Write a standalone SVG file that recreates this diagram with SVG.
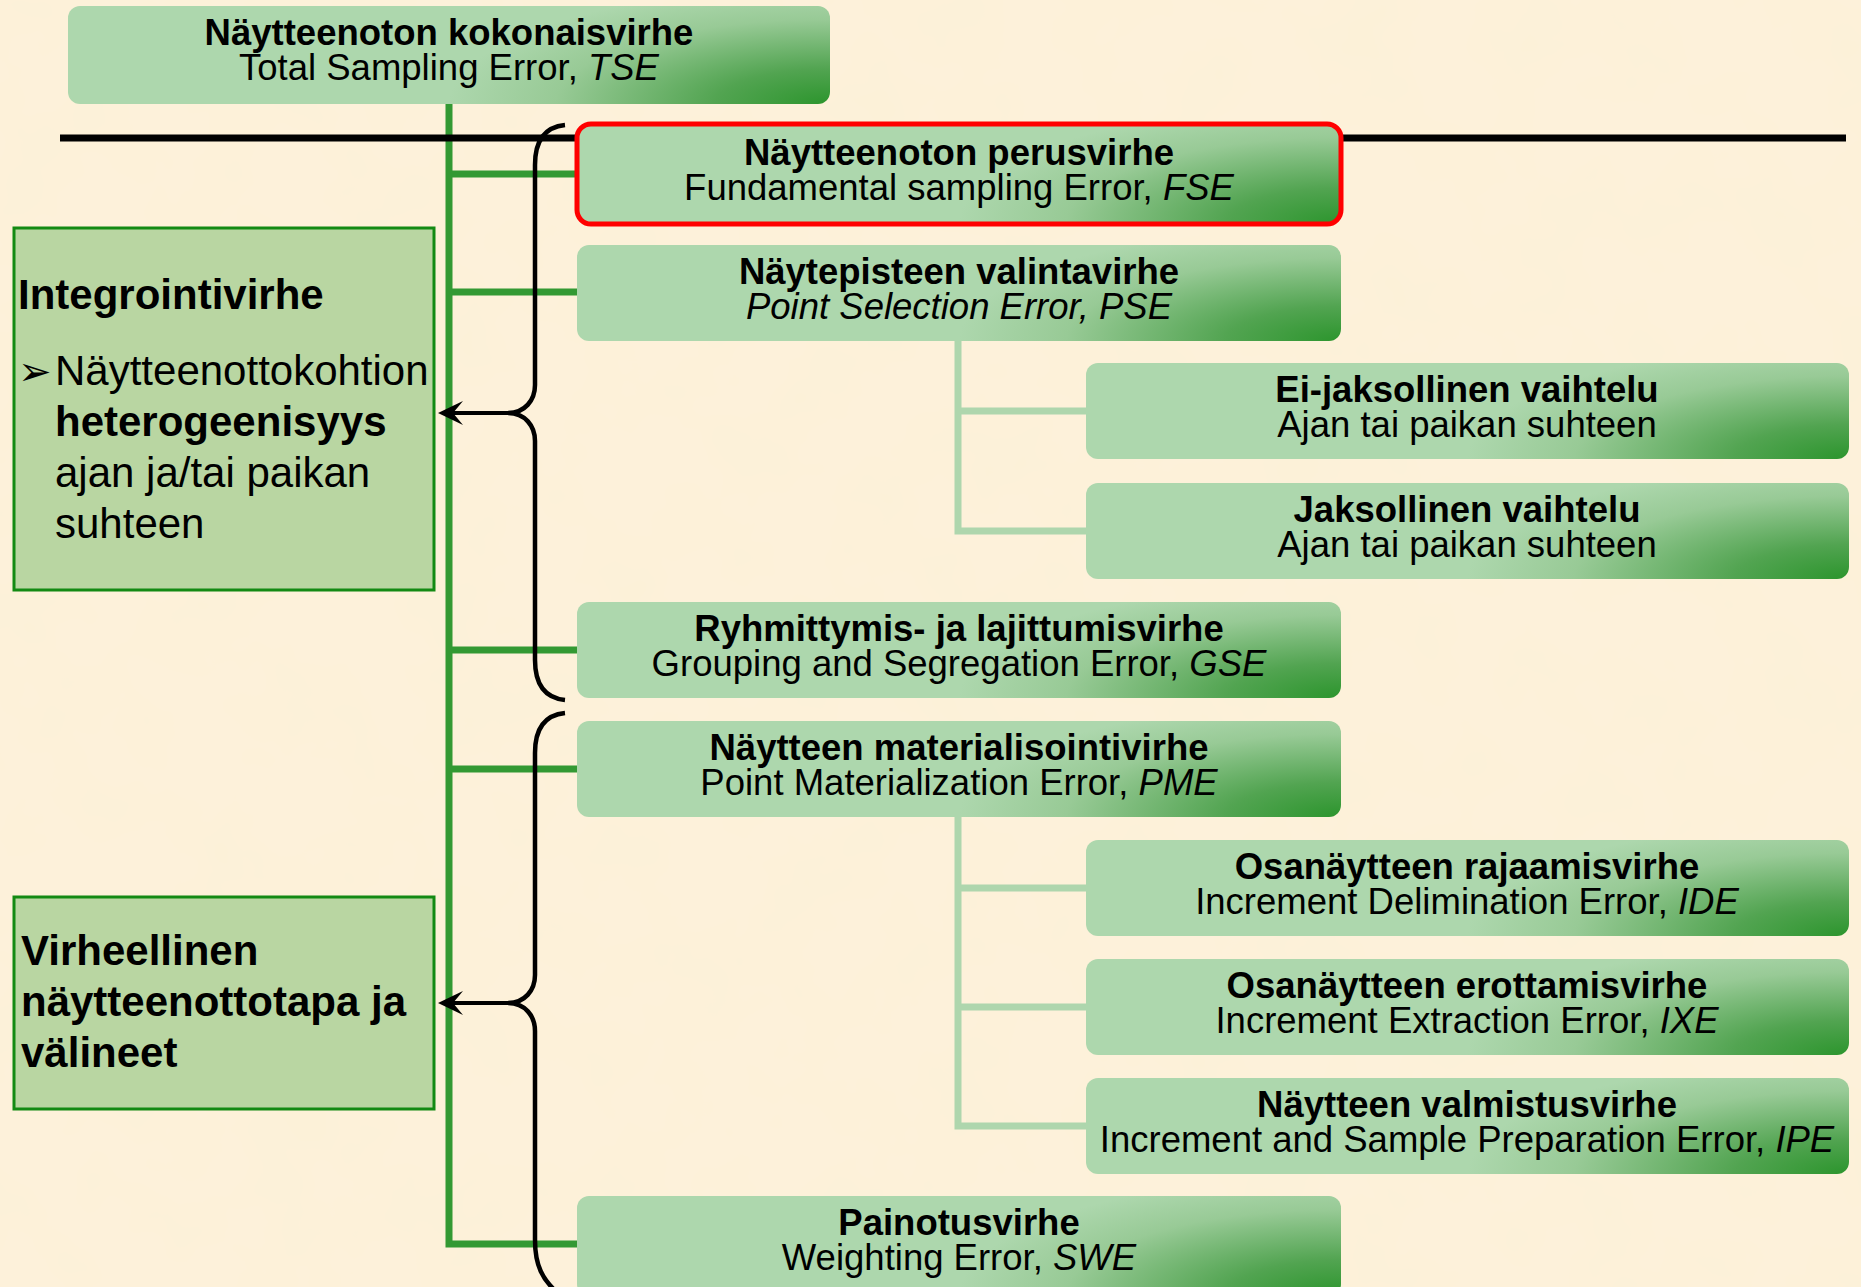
<svg xmlns="http://www.w3.org/2000/svg" width="1861" height="1287" viewBox="0 0 1861 1287">
<defs>
  <radialGradient id="boxg" cx="0" cy="0" r="1" gradientTransform="translate(1 1) scale(0.5 1.2)">
    <stop offset="0" stop-color="#2c952d"/>
    <stop offset="0.3" stop-color="#52a451"/>
    <stop offset="0.72" stop-color="#98ca96"/>
    <stop offset="1" stop-color="#add7ad"/>
  </radialGradient>
  <filter id="paper" x="0" y="0" width="100%" height="100%">
    <feTurbulence type="fractalNoise" baseFrequency="0.012" numOctaves="3" seed="7" result="n"/>
    <feColorMatrix in="n" type="matrix" values="0 0 0 0 0.97  0 0 0 0 0.88  0 0 0 0 0.68  1.2 0 0 0 -0.42"/>
  </filter>
  <marker id="arr" viewBox="-30 -15 32 30" markerWidth="32" markerHeight="30" refX="-8" refY="0" orient="auto" markerUnits="userSpaceOnUse">
    <path d="M0,0 L-25,-12 L-15,0 L-25,12 Z" fill="#000"/>
  </marker>
</defs>
<style>
  .bx{fill:url(#boxg)}
  .red{fill:url(#boxg);stroke:#ff0000;stroke-width:5}
  .side{fill:#b9d6a2;stroke:#138a13;stroke-width:3}
  .tb{font-family:'Liberation Sans',Arial,sans-serif;font-size:36.5px;font-weight:bold;text-anchor:middle;fill:#000}
  .tr{font-family:'Liberation Sans',Arial,sans-serif;font-size:36.5px;text-anchor:middle;fill:#000}
  .it{font-style:italic}
  .ls{font-family:'Liberation Sans',Arial,sans-serif;font-size:42px;fill:#000}
  .b{font-weight:bold}
  .trunk{fill:none;stroke:#339933;stroke-width:7}
  .sub{fill:none;stroke:#aed6ad;stroke-width:7}
  .brace{fill:none;stroke:#000;stroke-width:4.5}
  .arrow{fill:none;stroke:#000;stroke-width:4;marker-end:url(#arr)}
</style>

<rect x="0" y="0" width="1861" height="1287" fill="#fdf1da"/>
<rect x="0" y="0" width="1861" height="1287" filter="url(#paper)"/>

<g id="connectors">
  <path class="trunk" d="M449,104 V1244 H580 M449,174 H580 M449,292 H580 M449,650 H580 M449,769 H580"/>
  <path class="sub" d="M958,341 V531 H1088 M958,411 H1088 M958,817 V1126 H1088 M958,888 H1088 M958,1007 H1088"/>
  <line x1="60" y1="138" x2="1846" y2="138" stroke="#000" stroke-width="7"/>
  <path class="brace" d="M565,125 C545,127 535,140 535,165 L535,385 C535,400 525,413 508,413 C525,413 535,426 535,441 L535,660 C535,685 545,698 565,700"/>
  <path class="brace" d="M565,713 C545,715 535,728 535,753 L535,975 C535,990 525,1003 508,1003 C525,1003 535,1016 535,1031 L535,1240 C535,1265 542,1280 560,1295"/>
  <line class="arrow" x1="508" y1="413" x2="446" y2="413"/>
  <line class="arrow" x1="508" y1="1003" x2="446" y2="1003"/>
</g>

<g id="tse">
  <rect class="bx" x="68" y="6" width="762" height="98" rx="12"/>
  <text class="tb" x="449" y="45">Näytteenoton kokonaisvirhe</text>
  <text class="tr" x="449" y="80">Total Sampling Error, <tspan class="it">TSE</tspan></text>
</g>

<g id="fse">
  <rect class="red" x="577" y="124" width="764" height="100" rx="14"/>
  <text class="tb" x="959" y="165">Näytteenoton perusvirhe</text>
  <text class="tr" x="959" y="200">Fundamental sampling Error, <tspan class="it">FSE</tspan></text>
</g>

<g id="pse">
  <rect class="bx" x="577" y="245" width="764" height="96" rx="12"/>
  <text class="tb" x="959" y="284">Näytepisteen valintavirhe</text>
  <text class="tr it" x="959" y="319">Point Selection Error, PSE</text>
</g>

<g id="ei-jaksollinen">
  <rect class="bx" x="1086" y="363" width="763" height="96" rx="12"/>
  <text class="tb" x="1467" y="402">Ei-jaksollinen vaihtelu</text>
  <text class="tr" x="1467" y="437">Ajan tai paikan suhteen</text>
</g>

<g id="jaksollinen">
  <rect class="bx" x="1086" y="483" width="763" height="96" rx="12"/>
  <text class="tb" x="1467" y="522">Jaksollinen vaihtelu</text>
  <text class="tr" x="1467" y="557">Ajan tai paikan suhteen</text>
</g>

<g id="gse">
  <rect class="bx" x="577" y="602" width="764" height="96" rx="12"/>
  <text class="tb" x="959" y="641">Ryhmittymis- ja lajittumisvirhe</text>
  <text class="tr" x="959" y="676">Grouping and Segregation Error, <tspan class="it">GSE</tspan></text>
</g>

<g id="pme">
  <rect class="bx" x="577" y="721" width="764" height="96" rx="12"/>
  <text class="tb" x="959" y="760">Näytteen materialisointivirhe</text>
  <text class="tr" x="959" y="795">Point Materialization Error, <tspan class="it">PME</tspan></text>
</g>

<g id="ide">
  <rect class="bx" x="1086" y="840" width="763" height="96" rx="12"/>
  <text class="tb" x="1467" y="879">Osanäytteen rajaamisvirhe</text>
  <text class="tr" x="1467" y="914">Increment Delimination Error, <tspan class="it">IDE</tspan></text>
</g>

<g id="ixe">
  <rect class="bx" x="1086" y="959" width="763" height="96" rx="12"/>
  <text class="tb" x="1467" y="998">Osanäytteen erottamisvirhe</text>
  <text class="tr" x="1467" y="1033">Increment Extraction Error, <tspan class="it">IXE</tspan></text>
</g>

<g id="ipe">
  <rect class="bx" x="1086" y="1078" width="763" height="96" rx="12"/>
  <text class="tb" x="1467" y="1117">Näytteen valmistusvirhe</text>
  <text class="tr" x="1467" y="1152">Increment and Sample Preparation Error, <tspan class="it">IPE</tspan></text>
</g>

<g id="swe">
  <rect class="bx" x="577" y="1196" width="764" height="100" rx="12"/>
  <text class="tb" x="959" y="1235">Painotusvirhe</text>
  <text class="tr" x="959" y="1270">Weighting Error, <tspan class="it">SWE</tspan></text>
</g>

<g id="integrointivirhe">
  <rect class="side" x="14" y="228" width="420" height="362"/>
  <text class="ls b" x="18" y="309">Integrointivirhe</text>
  <text x="18" y="385" font-family="'DejaVu Sans', sans-serif" font-size="40" fill="#000">➢</text>
  <text class="ls" x="55" y="385">Näytteenottokohtion</text>
  <text class="ls b" x="55" y="436">heterogeenisyys</text>
  <text class="ls" x="55" y="487">ajan ja/tai paikan</text>
  <text class="ls" x="55" y="538">suhteen</text>
</g>

<g id="virheellinen">
  <rect class="side" x="14" y="897" width="420" height="212"/>
  <text class="ls b" x="21" y="965">Virheellinen</text>
  <text class="ls b" x="21" y="1016">näytteenottotapa ja</text>
  <text class="ls b" x="21" y="1067">välineet</text>
</g>
</svg>
